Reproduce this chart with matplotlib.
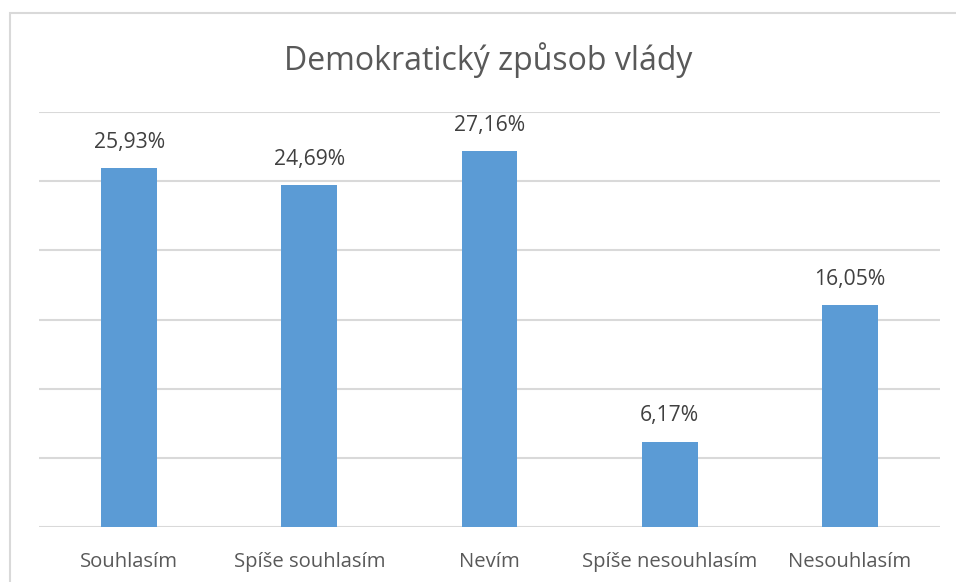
import matplotlib
matplotlib.use("Agg")
import matplotlib.pyplot as plt
from matplotlib.patches import Rectangle

categories = ["Souhlasím", "Spíše souhlasím", "Nevím", "Spíše nesouhlasím", "Nesouhlasím"]
values = [25.93, 24.69, 27.16, 6.17, 16.05]
labels = ["25,93%", "24,69%", "27,16%", "6,17%", "16,05%"]

plt.rcParams['font.family'] = ['Open Sans', 'DejaVu Sans']

W, H = 956, 582
fig = plt.figure(figsize=(W/100, H/100), dpi=100)
fig.patch.set_facecolor('white')

# outer chart border (top and left visible)
fig.patches.append(Rectangle((10/W, -0.1), 1.2, 1 - 13/H + 0.1, transform=fig.transFigure,
                             fill=False, edgecolor='#D9D9D9', linewidth=1.5))

ax = fig.add_axes([39/W, 1 - 527/H, (940-39)/W, (527-112)/H])
x = range(len(categories))
ax.bar(x, values, width=0.31, color='#5B9BD5', zorder=3)
ax.set_xlim(-0.5, len(categories) - 0.5)
ax.set_ylim(0, 30)
ax.set_yticks([0, 5, 10, 15, 20, 25, 30])
ax.yaxis.grid(True, color='#D9D9D9', linewidth=1.5, zorder=0)
ax.tick_params(axis='y', left=False, labelleft=False)
ax.tick_params(axis='x', bottom=False, pad=21.6, labelsize=14.6, labelcolor='#595959')
ax.set_xticks(list(x))
ax.set_xticklabels(categories)
for lab in ax.get_xticklabels():
    lab.set_va('center')
for s in ax.spines.values():
    s.set_visible(False)

for xi, v, lab in zip(x, values, labels):
    ax.annotate(lab, (xi, v), xytext=(0, 18.7), textcoords='offset points',
                ha='center', va='center', fontsize=15.2, color='#404040')

fig.text(488/W, 1 - 60/H, "Demokratický způsob vlády", ha='center', va='center',
         fontsize=23, color='#595959')

fig.savefig("out.png", dpi=100)
